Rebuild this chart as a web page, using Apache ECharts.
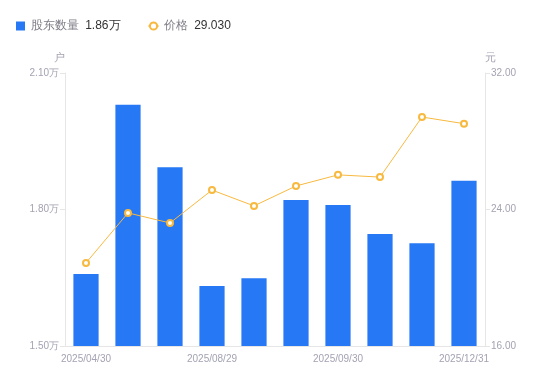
<!DOCTYPE html>
<html><head><meta charset="utf-8">
<script src="https://cdn.jsdelivr.net/npm/echarts@6/dist/echarts.min.js"></script>
<style>html,body{margin:0;padding:0;background:#fff}#c{width:550px;height:381px}</style>
</head><body><div id="c"></div>
<script>
var categories = ['2025/04/30','2025/05/30','2025/06/30','2025/08/29','2025/08/31','2025/09/10','2025/09/30','2025/10/31','2025/11/30','2025/12/31'];
var holders = [16580, 20300, 18930, 16320, 16490, 18210, 18100, 17460, 17260, 18630];
var prices = [20.87, 23.80, 23.21, 25.14, 24.21, 25.38, 26.03, 25.90, 29.42, 29.03];
var leftTicks = [15000, 21000, 3000];   // min, max, interval
var rightTicks = [16, 32, 8];

var chart = echarts.init(document.getElementById('c'));
var lastH = holders[holders.length-1], lastP = prices[prices.length-1];
chart.setOption({
  animation: false,
  legend: {
    left: 11, top: 15, itemWidth: 10, itemHeight: 9, itemGap: 27, symbolKeepAspect: true,
    data: [{name:'股东数量', icon:'path://M0,0H9V9H0Z'}, {name:'价格'}],
    formatter: function(n){
      if(n==='股东数量') return '{a|'+n+'}  {b|'+(lastH/10000).toFixed(2)+'万}';
      return '{a|'+n+'}  {b|'+lastP.toFixed(3)+'}';
    },
    textStyle: { rich: { a:{color:'#7d7d86', fontSize:12}, b:{color:'#333', fontSize:12} } }
  },
  grid: { left: 65, right: 65, top: 73, bottom: 35 },
  xAxis: {
    type: 'category', data: categories,
    axisLine: { lineStyle: { color: '#e6e6e6' } },
    axisTick: { show: false },
    axisLabel: { color: '#a3a3b3', fontSize: 10, interval: 2, margin: 8 }
  },
  yAxis: [{
    type: 'value', name: '户', nameGap: 10, min: leftTicks[0], max: leftTicks[1], interval: leftTicks[2],
    nameTextStyle: { color: '#a3a3b3', fontSize: 11, padding:[0,12,0,0] },
    axisLine: { show: true, lineStyle: { color: '#e6e6e6' } },
    axisTick: { show: true, length: 5, lineStyle: { color: '#e6e6e6' } },
    splitLine: { show: false },
    axisLabel: { color: '#a3a3b3', fontSize: 10, margin: 6, formatter: function(v){ return (v/10000).toFixed(2)+'万'; } }
  },{
    type: 'value', name: '元', nameGap: 10, min: rightTicks[0], max: rightTicks[1], interval: rightTicks[2],
    nameTextStyle: { color: '#a3a3b3', fontSize: 11, padding:[0,0,0,10] },
    axisLine: { show: true, lineStyle: { color: '#e6e6e6' } },
    axisTick: { show: true, length: 5, lineStyle: { color: '#e6e6e6' } },
    splitLine: { show: false },
    axisLabel: { color: '#a3a3b3', fontSize: 10, margin: 6, formatter: function(v){ return v.toFixed(2); } }
  }],
  series: [{
    name: '股东数量', type: 'bar', data: holders, barWidth: '60%',
    itemStyle: { color: '#2778f5' }
  },{
    name: '价格', type: 'line', yAxisIndex: 1, data: prices,
    symbol: 'emptyCircle', symbolSize: 6,
    lineStyle: { color: '#f8b93f', width: 1 },
    itemStyle: { color: '#f8b93f', borderWidth: 2 }
  }]
});
</script></body></html>
